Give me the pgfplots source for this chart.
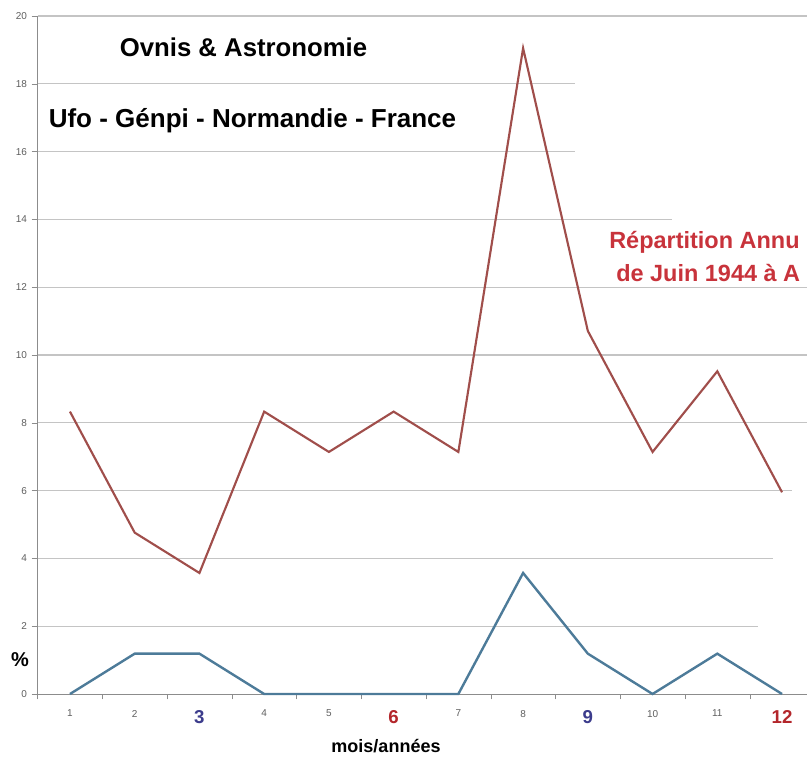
\documentclass[border=0pt]{standalone}
\usepackage{pgfplots}
\pgfplotsset{compat=1.18}
\usepackage{fontspec}
\setmainfont{Liberation Sans}

\definecolor{redline}{HTML}{A04E4B}
\definecolor{blueline}{HTML}{4D7B99}
\definecolor{gridc}{HTML}{C4C4C4}
\definecolor{axisc}{HTML}{8C8C8C}
\definecolor{tickc}{HTML}{5E5E5E}
\definecolor{navy}{HTML}{3C3C8C}
\definecolor{darkred}{HTML}{B3262B}
\definecolor{titlered}{HTML}{C8333B}

\newcommand{\bigtick}[2]{\textcolor{#1}{\fontsize{14}{14}\selectfont\bfseries #2}}

\begin{document}
\begin{tikzpicture}
\begin{axis}[
  at={(28.2pt,48pt)}, anchor=south west,
  scale only axis, width=582.6pt, height=508.5pt,
  xmin=0.5, xmax=12.5, ymin=0, ymax=20,
  axis x line=bottom, axis y line=left,
  axis line style={axisc,-},
  xtick={1,...,12},
  xticklabels={1,2,\bigtick{navy}{3},4,5,\bigtick{darkred}{6},7,8,\bigtick{navy}{9},10,11,\bigtick{darkred}{12}},
  xticklabel style={yshift=-4pt},
  major x tick style={draw=none},
  minor xtick={0.5,1.5,...,12.5},
  ytick={0,2,...,20},
  tick align=outside, tick style={axisc},
  major tick length=4.5pt, minor tick length=4pt,
  ticklabel style={font=\fontsize{7.5}{8}\selectfont, text=tickc},
  /pgf/number format/assume math mode=true,
  clip=false,
]
% horizontal grid lines, some shortened as in the original
\draw[gridc, line width=0.9pt] (axis cs:0.5,2)  -- (axis cs:11.63,2);
\draw[gridc, line width=0.9pt] (axis cs:0.5,4)  -- (axis cs:11.86,4);
\draw[gridc, line width=0.9pt] (axis cs:0.5,6)  -- (axis cs:12.15,6);
\draw[gridc, line width=0.9pt] (axis cs:0.5,8)  -- (axis cs:12.5,8);
\draw[gridc, line width=0.9pt] (axis cs:0.5,10) -- (axis cs:12.5,10);
\draw[gridc, line width=0.9pt] (axis cs:0.5,12) -- (axis cs:12.5,12);
\draw[gridc, line width=0.9pt] (axis cs:0.5,14) -- (axis cs:10.30,14);
\draw[gridc, line width=0.9pt] (axis cs:0.5,16) -- (axis cs:8.80,16);
\draw[gridc, line width=0.9pt] (axis cs:0.5,18) -- (axis cs:8.80,18);
\draw[gridc, line width=0.9pt] (axis cs:0.5,20) -- (axis cs:12.5,20);

\addplot[redline, line width=1.6pt] coordinates {
  (1,8.33) (2,4.76) (3,3.57) (4,8.33) (5,7.14) (6,8.33)
  (7,7.14) (8,19.05) (9,10.71) (10,7.14) (11,9.52) (12,5.95)};
\addplot[blueline, line width=1.8pt] coordinates {
  (1,0) (2,1.19) (3,1.19) (4,0) (5,0) (6,0)
  (7,0) (8,3.57) (9,1.19) (10,0) (11,1.19) (12,0)};
\end{axis}

\begin{scope}[x=0.75pt, y=0.75pt]
\node[font=\fontsize{19.3}{22}\selectfont\bfseries] at (243.5,711) {Ovnis \& Astronomie};
\node[font=\fontsize{19.5}{22}\selectfont\bfseries] at (252.5,637) {Ufo - Génpi - Normandie - France};
\node[anchor=west, inner sep=0pt, text=titlered, font=\fontsize{17.6}{20}\selectfont\bfseries] at (609,516) {Répartition Annu};
\node[anchor=west, inner sep=0pt, text=titlered, font=\fontsize{17.6}{20}\selectfont\bfseries] at (616,485) {de Juin 1944 à A};
\node[font=\fontsize{15}{18}\selectfont\bfseries] at (20,98) {\%};
\node[font=\fontsize{13.5}{16}\selectfont\bfseries] at (386,12) {mois/années};
\pgfresetboundingbox
\path[use as bounding box] (0,0) rectangle (807,758);
\end{scope}
\end{tikzpicture}
\end{document}
